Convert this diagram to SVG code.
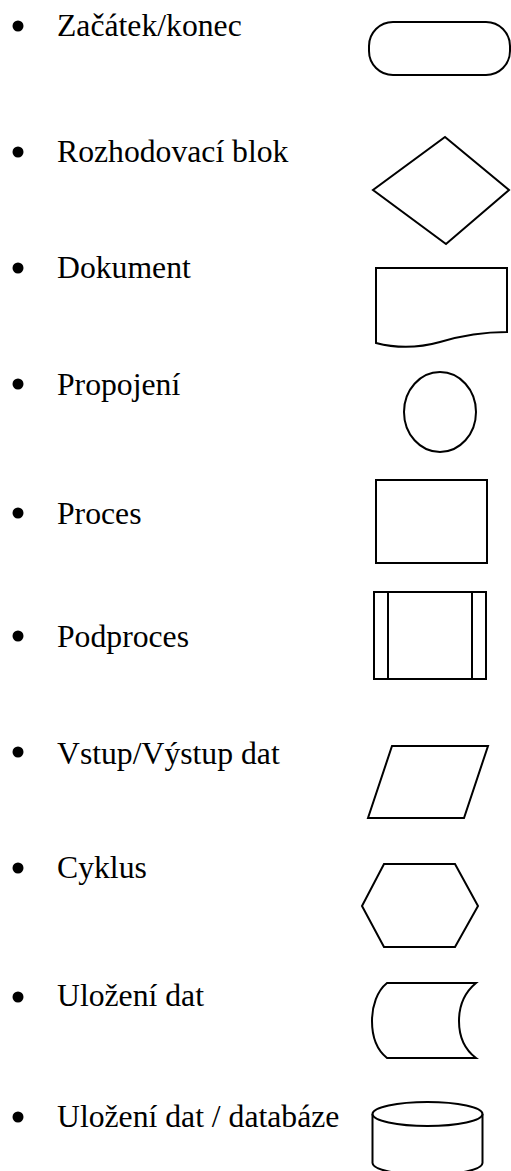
<svg xmlns="http://www.w3.org/2000/svg" width="511" height="1171" viewBox="0 0 511 1171">
<style>
.s{fill:#fff;stroke:#000;stroke-width:2;stroke-linejoin:miter}
.t{font-family:"Liberation Serif","Times New Roman",serif;font-size:31.7px;fill:#000}
.b{fill:#000}
</style>
<rect width="511" height="1171" fill="#fff"/>
<g id="item-zacatek">
<circle class="b" cx="18" cy="26" r="5.5"/>
<text class="t" x="57" y="36">Začátek/konec</text>
<rect class="s" x="369" y="22" width="141" height="53" rx="24" ry="24"/>
</g>
<g id="item-rozhodovaci">
<circle class="b" cx="18" cy="152" r="5.5"/>
<text class="t" x="57" y="162">Rozhodovací blok</text>
<polygon class="s" points="445,137 509,190 446,244 373,190"/>
</g>
<g id="item-dokument">
<circle class="b" cx="18" cy="268" r="5.5"/>
<text class="t" x="57" y="278">Dokument</text>
<path class="s" d="M376,268 H507 V332 C480,332 460,336 440,342 C415,349 395,348 376,343 Z"/>
</g>
<g id="item-propojeni">
<circle class="b" cx="18" cy="384" r="5.5"/>
<text class="t" x="57" y="395">Propojení</text>
<ellipse class="s" cx="440" cy="412" rx="36" ry="40"/>
</g>
<g id="item-proces">
<circle class="b" cx="18" cy="513" r="5.5"/>
<text class="t" x="57" y="524">Proces</text>
<rect class="s" x="376" y="480" width="111" height="83"/>
</g>
<g id="item-podproces">
<circle class="b" cx="18" cy="636" r="5.5"/>
<text class="t" x="57" y="647">Podproces</text>
<rect class="s" x="374" y="592" width="112" height="87"/>
<line class="s" x1="388" y1="592" x2="388" y2="679"/>
<line class="s" x1="472" y1="592" x2="472" y2="679"/>
</g>
<g id="item-vstup">
<circle class="b" cx="18" cy="752" r="5.5"/>
<text class="t" x="57" y="764">Vstup/Výstup dat</text>
<polygon class="s" points="392,746 488,746 464,818 368,818"/>
</g>
<g id="item-cyklus">
<circle class="b" cx="18" cy="868" r="5.5"/>
<text class="t" x="57" y="878">Cyklus</text>
<polygon class="s" points="384,864 455,864 478,906 455,947 384,947 362,906"/>
</g>
<g id="item-ulozeni">
<circle class="b" cx="18" cy="997" r="5.5"/>
<text class="t" x="57" y="1006">Uložení dat</text>
<path class="s" d="M387,983 H476 C464,993 459,1007 459,1021 C459,1035 464,1049 476,1058 H387 C377,1050 372,1036 372,1021 C372,1006 377,991 387,983 Z"/>
</g>
<g id="item-databaze">
<circle class="b" cx="18" cy="1117" r="5.5"/>
<text class="t" x="57" y="1127">Uložení dat / databáze</text>
<path class="s" d="M372.5,1114 V1163 A55,12 0 0 0 482.5,1163 V1114"/>
<ellipse class="s" cx="427.5" cy="1114" rx="55" ry="12"/>
</g>
<g id="connectors"></g>
</svg>
